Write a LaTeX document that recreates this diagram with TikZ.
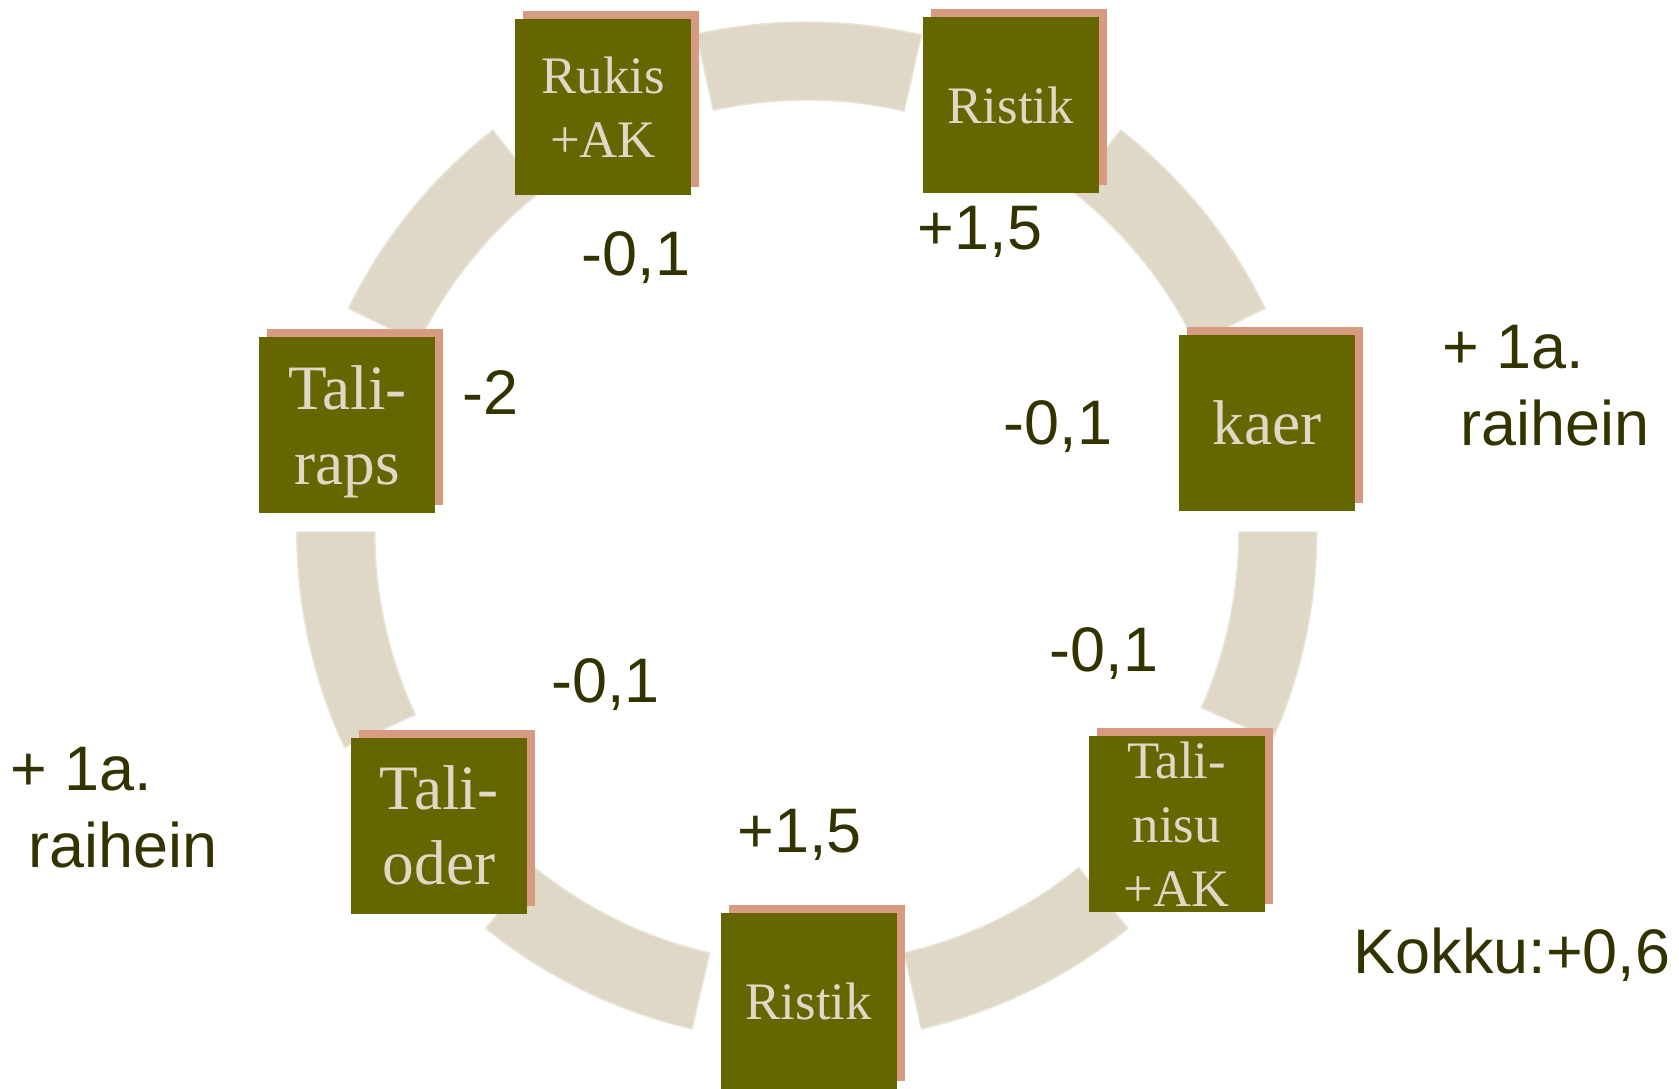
\documentclass[tikz,border=0pt]{standalone}
\usepackage{amsmath}
\usepackage{fontspec}
\setmainfont{Liberation Serif}
\setsansfont{Liberation Sans}
\usetikzlibrary{shadows}

\definecolor{cropgreen}{RGB}{102,102,0}
\definecolor{shadowpink}{RGB}{215,155,130}
\definecolor{ringbeige}{RGB}{223,216,199}
\definecolor{ringedge}{RGB}{233,228,216}
\definecolor{gaintext}{RGB}{51,51,0}

\begin{document}
\begin{tikzpicture}[
			ring/.style={fill=ringbeige,draw=ringedge,line width=.4pt},
			crop/.style={rectangle,minimum size=1.76cm,inner sep=0pt,fill=cropgreen,text=ringbeige,align=center,
				font=\fontsize{15}{18.2}\selectfont,
				drop shadow={shadow xshift=.08cm,shadow yshift=.08cm,fill=shadowpink,opacity=1}},
			bigcrop/.style={crop,font=\fontsize{18}{21.3}\selectfont},
			gain/.style={inner sep=0pt,text=gaintext,font=\sffamily\fontsize{17.9}{21.8}\selectfont}]
			\useasboundingbox[fill=white] (0,0) rectangle (16.79,-10.89);
			\coordinate (hub) at (8.068,-5.32);
			% ring pieces between the fields
			\foreach \a/\b in {77/102.5, 26/52, -24/0, -77/-51, -129/-103, 180/205, 128/154}
				\draw[ring,shift={(hub)}] (\a:5.1) arc[start angle=\a,end angle=\b,radius=5.1]
					-- (\b:4.32) arc[start angle=\b,end angle=\a,radius=4.32] -- cycle;

			\node (rukis) [crop] at (6.03,-1.07) {Rukis\\+AK};
			\node (ristikA) [crop] at (10.107,-1.053) {Ristik};
			\node (kaer) [bigcrop] at (12.668,-4.23) {kaer};
			\node (talinisu) [crop] at (11.767,-8.243) {Tali-\\nisu\\+AK};
			\node (ristikB) [crop] at (8.088,-10.012) {Ristik};
			\node (talioder) [bigcrop] at (4.39,-8.256) {Tali-\\oder};
			\node (taliraps) [bigcrop] at (3.473,-4.25) {Tali-\\\smash[b]{raps}};

			% changes
			\node (dRukis) [gain,anchor=base] at (6.36,-2.76) {-0,1};
			\node (dRistikA) [gain,anchor=base] at (9.80,-2.493) {+1,5};
			\node (dRaps) [gain,anchor=base] at (4.903,-4.15) {-2};
			\node (dKaer) [gain,anchor=base] at (10.58,-4.45) {-0,1};
			\node (dNisu) [gain,anchor=base] at (11.04,-6.717) {-0,1};
			\node (dOder) [gain,anchor=base] at (6.055,-7.027) {-0,1};
			\node (dRistikB) [gain,anchor=base] at (7.995,-8.53) {+1,5};
			\node (grassR) [gain,align=left,anchor=north west] at (14.42,-3.25) {+ 1a.\\\hspace*{.28em}raihein};
			\node (grassL) [gain,align=left,anchor=north west] at (0.10,-7.467) {+ 1a.\\\hspace*{.28em}raihein};
			\node (total) [gain,anchor=base] at (15.12,-9.733) {Kokku:+0,6};
		\end{tikzpicture}
\end{document}
